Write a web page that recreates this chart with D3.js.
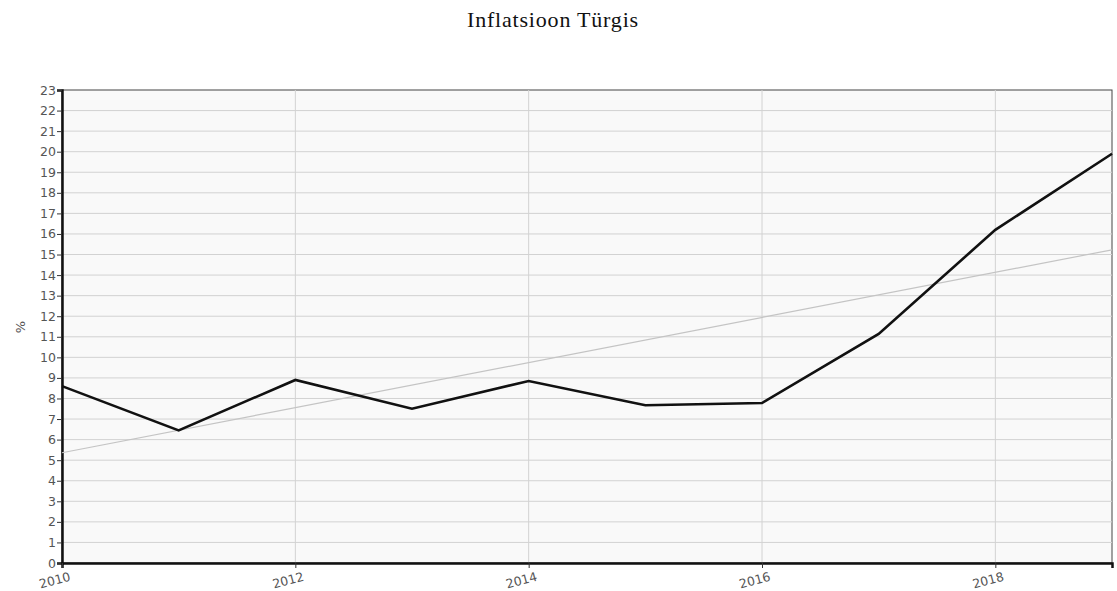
<!DOCTYPE html>
<html>
<head>
<meta charset="utf-8">
<script src="https://cdn.jsdelivr.net/npm/d3@7"></script>
<style>
	body { margin: 0; background: #fff; }
	svg { display: block; }
</style>
</head>
<body>
<div id="chart"></div>
<script>

var years = [2010, 2011, 2012, 2013, 2014, 2015, 2016, 2017, 2018, 2019]
var inflation = [8.6, 6.45, 8.9, 7.5, 8.85, 7.67, 7.78, 11.14, 16.2, 19.9]
var trendYears = [2010, 2019]
var trendValues = [5.36, 15.23]
var xTicks = [2010, 2012, 2014, 2016, 2018]
var yTicks = d3.range(0, 24)

var margin = {top: 90, right: 5, bottom: 28, left: 62},
	width = 1117 - margin.left - margin.right,
	height = 591 - margin.top - margin.bottom;

var svg = d3.select("#chart").append("svg")
			.attr("width", 1117)
			.attr("height", 591)

svg.append("text")
	.attr("x", 553)
	.attr("y", 27)
	.attr("text-anchor", "middle")
	.attr("font-family", "Liberation Serif, serif")
	.attr("font-size", 22)
	.attr("letter-spacing", 0.8)
	.attr("fill", "#111")
	.text("Inflatsioon Türgis")

var canvas = svg.append("g")
	.attr("transform", "translate(" + margin.left + "," + margin.top + ")")

var xScale = d3.scaleLinear()
				.domain([2010, 2019])
				.range([0, width])

var yScale = d3.scaleLinear()
				.domain([0, 23])
				.range([height, 0])

canvas.append("rect")
	.attr("width", width)
	.attr("height", height)
	.attr("fill", "#f9f9f9")
	.attr("stroke", "#444")
	.attr("stroke-width", 1)

// grid
canvas.selectAll(".hgrid")
	.data(yTicks.slice(1, -1)).enter()
	.append("line")
	.attr("x1", 0).attr("x2", width)
	.attr("y1", function(d){ return yScale(d) })
	.attr("y2", function(d){ return yScale(d) })
	.attr("stroke", "#d2d2d2")
	.attr("stroke-width", 1)

canvas.selectAll(".vgrid")
	.data(xTicks.slice(1)).enter()
	.append("line")
	.attr("y1", 0).attr("y2", height)
	.attr("x1", function(d){ return xScale(d) })
	.attr("x2", function(d){ return xScale(d) })
	.attr("stroke", "#d2d2d2")
	.attr("stroke-width", 1)

// axes
var yAxis = canvas.append("g")
	.call(d3.axisLeft(yScale).tickValues(yTicks).tickSize(5).tickFormat(d3.format("d")))
yAxis.select(".domain").attr("stroke", "#111").attr("stroke-width", 2.5)
yAxis.selectAll(".tick line").attr("stroke", "#333")
yAxis.selectAll("text")
	.attr("font-family", "DejaVu Sans, sans-serif")
	.attr("font-size", 12.5)
	.attr("fill", "#555")
	.attr("x", -6)

var xAxis = canvas.append("g")
	.attr("transform", "translate(0," + height + ")")
	.call(d3.axisBottom(xScale).tickValues(xTicks).tickSize(5).tickFormat(d3.format("d")))
xAxis.select(".domain").attr("stroke", "#111").attr("stroke-width", 2.5)
xAxis.selectAll(".tick line").attr("stroke", "#333")
xAxis.selectAll("text")
	.attr("font-family", "DejaVu Sans, sans-serif")
	.attr("font-size", 12.5)
	.attr("fill", "#555")
	.attr("text-anchor", "end")
	.attr("dy", 0)
	.attr("y", 19)
	.attr("x", 4)
	.attr("transform", "rotate(-15)")

canvas.append("text")
	.attr("transform", "translate(" + (20 - margin.left) + "," + (327 - margin.top) + ") rotate(-90)")
	.attr("text-anchor", "middle")
	.attr("dy", "0.35em")
	.attr("font-family", "DejaVu Sans, sans-serif")
	.attr("font-size", 13)
	.attr("fill", "#555")
	.text("%")

// trend
var trend = trendYears.map(function(d, i){ return {x: d, y: trendValues[i]} })
canvas.append("path")
	.datum(trend)
	.attr("fill", "none")
	.attr("stroke", "#c4c4c4")
	.attr("stroke-width", 1.2)
	.attr("d", d3.line().x(function(d){ return xScale(d.x) }).y(function(d){ return yScale(d.y) }))

// data line
var pts = years.map(function(d, i){ return {x: d, y: inflation[i]} })
canvas.append("path")
	.datum(pts)
	.attr("fill", "none")
	.attr("stroke", "#111")
	.attr("stroke-width", 2.6)
	.attr("stroke-linejoin", "miter")
	.attr("d", d3.line().x(function(d){ return xScale(d.x) }).y(function(d){ return yScale(d.y) }))

</script>
</body>
</html>
